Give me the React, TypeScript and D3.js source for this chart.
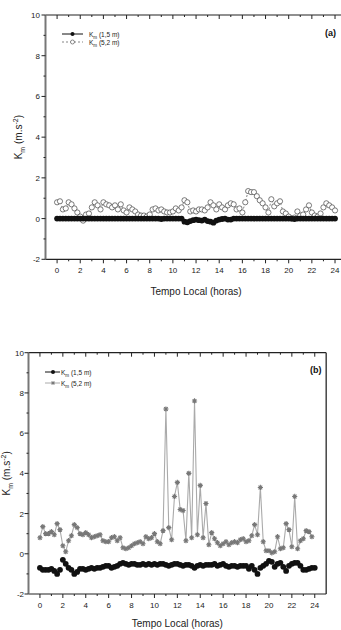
import React, { useEffect, useRef } from 'react';
import * as d3 from 'd3';

// Horas locais, amostragem de 15 min
const STEP_H = 0.25;
const X_TICKS = d3.range(0, 25, 1);
const Y_TICKS = d3.range(-2, 11, 1);

// Painel (a)
const KM_A_15: number[] = [
  0, 0, 0, 0, 0, 0, 0, 0,
  0, 0, 0, 0, 0, 0, 0, 0,
  0, 0, 0, 0, 0, 0, 0, 0,
  0, 0, 0, 0, 0, 0, 0, 0,
  0, 0, 0, 0, -0.02, 0, 0, 0,
  0, 0, 0, 0, -0.15, -0.18, -0.12, -0.08,
  -0.05, -0.08, -0.1, -0.05, -0.12, -0.15, -0.2, -0.1,
  -0.05, -0.02, 0, -0.05, -0.05, 0, 0, 0,
  0, 0, 0, 0, 0, 0, 0, 0,
  0, 0, 0, 0, 0, 0, 0, 0,
  0, 0, -0.02, 0, 0, 0, 0, 0,
  0, 0, 0, 0, 0, 0, 0, 0,
  0,
];
const KM_A_52: number[] = [
  0.8, 0.85, 0.45, 0.5, 0.8, 0.7, 0.5, 0.3,
  0.1, -0.1, 0.2, 0.25, 0.55, 0.8, 0.65, 0.45,
  0.8, 0.7, 0.65, 0.55, 0.65, 0.45, 0.7, 0.4,
  0.3, 0.55, 0.45, 0.35, 0.2, 0.15, 0.15, 0.1,
  0.2, 0.45, 0.5, 0.4, 0.45, 0.35, 0.3, 0.3,
  0.35, 0.5, 0.4, 0.55, 0.9, 0.8, 0.35, 0.4,
  0.35, 0.45, 0.45, 0.4, 0.55, 0.8, 0.65, 0.45,
  0.7, 0.55, 0.45, 0.65, 0.75, 0.7, 0.45, 0.5,
  0.3, 0.8, 1.35, 1.3, 1.3, 1.1, 0.9, 0.75,
  0.55, 0.3, 0.95, 0.6, 0.75, 0.85, 0.35, 0.25,
  0.1, 0.0, 0.05, 0.35, 0.15, 0.2, 0.45, 0.65,
  0.3, 0.15, 0.1, 0.25, 0.55, 0.75, 0.65, 0.55,
  0.4,
];

// Painel (b)
const KM_B_15: number[] = [
  -0.7, -0.8, -0.8, -0.8, -0.75, -0.85, -1.0, -0.8,
  -0.3, -0.5, -0.7, -0.8, -1.0, -0.9, -0.75, -0.75,
  -0.8, -0.75, -0.7, -0.75, -0.7, -0.7, -0.65, -0.6,
  -0.6, -0.7, -0.65, -0.6, -0.5, -0.45, -0.5, -0.55,
  -0.5, -0.5, -0.55, -0.55, -0.5, -0.55, -0.5, -0.55,
  -0.5, -0.55, -0.5, -0.5, -0.55, -0.6, -0.55, -0.5,
  -0.5, -0.55, -0.6, -0.55, -0.55, -0.6, -0.7, -0.6,
  -0.55, -0.6, -0.55, -0.55, -0.55, -0.5, -0.6, -0.55,
  -0.5, -0.6, -0.65, -0.6, -0.6, -0.65, -0.6, -0.6,
  -0.6, -0.75, -0.6, -0.8, -1.0, -0.7, -0.6, -0.5,
  -0.35, -0.4, -0.65, -0.5, -0.45, -0.65, -0.85, -0.6,
  -0.5, -0.45, -0.45, -0.6, -0.8, -0.8, -0.75, -0.7,
  -0.7,
];
const KM_B_52: number[] = [
  0.8, 1.35, 1.0, 1.0, 1.1, 0.95, 1.5, 1.2,
  0.4, 0.1, 0.65, 0.9, 1.45, 1.3, 1.0, 0.95,
  1.05, 0.95, 0.8, 0.85, 0.9, 0.95, 0.65, 0.6,
  0.6, 0.8, 0.85, 0.65, 0.8, 0.3, 0.25, 0.3,
  0.4, 0.5, 0.55, 0.6, 0.5, 0.85, 0.75, 0.8,
  1.0, 0.6, 0.5, 1.15, 7.2, 1.3, 0.7, 2.85,
  3.55, 2.2, 2.15, 0.65, 4.0, 0.8, 7.6, 0.95,
  3.4, 0.8, 2.5, 0.45, 1.05, 0.75, 0.55, 0.4,
  0.5, 0.6, 0.45, 0.55, 0.6, 0.55, 0.7, 0.75,
  0.6, 0.65, 0.9, 1.45, 0.95, 3.3, 0.6, 0.15,
  0.15, 0.05, 0.1, 0.85, 0.25, 0.3, 1.5, 1.2,
  0.35, 2.85, 0.25, 0.65, 0.75, 1.15, 1.1, 0.85,
];

const FONT = 'Liberation Sans, Arial, sans-serif';

interface Pt { h: number; v: number; }
const toPts = (vals: number[]): Pt[] => vals.map((v, i) => ({ h: i * STEP_H, v }));

interface PanelCfg {
  left: number; right: number; top: number; bottom: number;
  tickLabelX: number; yLabelX: number; xLabelY: number;
  tag: string; tagX: number; tagY: number;
  legX: number; legY: number;
  low: number[]; high: number[];
  mode: 'a' | 'b';
}

const PANELS: PanelCfg[] = [
  {
    left: 45.5, right: 346.6, top: 15, bottom: 259.3,
    tickLabelX: 40, yLabelX: 22, xLabelY: 295,
    tag: '(a)', tagX: 325, tagY: 36,
    legX: 62, legY: 34,
    low: KM_A_15, high: KM_A_52, mode: 'a',
  },
  {
    left: 28.5, right: 326.2, top: 352.7, bottom: 594,
    tickLabelX: 24, yLabelX: 10, xLabelY: 627,
    tag: '(b)', tagX: 310, tagY: 373,
    legX: 45, legY: 372,
    low: KM_B_15, high: KM_B_52, mode: 'b',
  },
];

function starPath(r: number) {
  const p: string[] = [];
  for (let k = 0; k < 4; k++) {
    const a = (Math.PI / 4) * k;
    const dx = Math.cos(a) * r, dy = Math.sin(a) * r;
    p.push(`M${-dx},${-dy}L${dx},${dy}`);
  }
  return p.join('');
}

function drawPanel(svg: d3.Selection<SVGSVGElement, unknown, null, undefined>, c: PanelCfg) {
  const x = d3.scaleLinear().domain([-1, 25]).range([c.left, c.right]);
  const y = d3.scaleLinear().domain([-2, 10]).range([c.bottom, c.top]);
  const g = svg.append('g');

  // moldura
  g.append('line').attr('x1', c.left).attr('x2', c.right).attr('y1', c.top).attr('y2', c.top)
    .attr('stroke', '#222').attr('stroke-width', 1.2);
  g.append('line').attr('x1', c.right).attr('x2', c.right).attr('y1', c.top).attr('y2', c.bottom)
    .attr('stroke', '#444').attr('stroke-width', 1.5);
  g.append('line').attr('x1', c.left).attr('x2', c.right).attr('y1', c.bottom).attr('y2', c.bottom)
    .attr('stroke', '#222').attr('stroke-width', 1.2);
  g.append('line').attr('x1', c.left).attr('x2', c.left).attr('y1', c.top).attr('y2', c.bottom)
    .attr('stroke', '#777').attr('stroke-width', 2);

  // ticks x (baixo para fora, topo para dentro)
  X_TICKS.forEach(h => {
    const major = h % 2 === 0;
    const len = major ? 4 : 2;
    g.append('line').attr('x1', x(h)).attr('x2', x(h)).attr('y1', c.bottom).attr('y2', c.bottom + len)
      .attr('stroke', '#222').attr('stroke-width', 1);
    g.append('line').attr('x1', x(h)).attr('x2', x(h)).attr('y1', c.top).attr('y2', c.top + len)
      .attr('stroke', '#222').attr('stroke-width', 1);
    if (major) {
      g.append('text').attr('x', x(h)).attr('y', c.bottom + 14).attr('text-anchor', 'middle')
        .style('font-family', FONT).style('font-size', '8px').attr('fill', '#222').text(String(h));
    }
  });

  // ticks y
  Y_TICKS.forEach(v => {
    const major = v % 2 === 0;
    const len = major ? 4 : 2;
    g.append('line').attr('x1', c.left - len).attr('x2', c.left).attr('y1', y(v)).attr('y2', y(v))
      .attr('stroke', '#222').attr('stroke-width', 1);
    if (major) {
      g.append('text').attr('x', c.tickLabelX).attr('y', y(v) + 3).attr('text-anchor', 'end')
        .style('font-family', FONT).style('font-size', '8px').attr('fill', '#222').text(String(v));
    }
  });

  // rótulos dos eixos
  g.append('text').attr('x', (x(0) + x(24)) / 2).attr('y', c.xLabelY).attr('text-anchor', 'middle')
    .style('font-family', FONT).style('font-size', '10px').attr('fill', '#222').text('Tempo Local (horas)');

  const yl = g.append('text')
    .attr('transform', `translate(${c.yLabelX},${(c.top + c.bottom) / 2}) rotate(-90)`)
    .attr('text-anchor', 'middle')
    .style('font-family', FONT).style('font-size', '10px').attr('fill', '#222');
  yl.append('tspan').text('K');
  yl.append('tspan').attr('dy', 3).style('font-size', '7px').text('m');
  yl.append('tspan').attr('dy', -3).text(' (m.s');
  yl.append('tspan').attr('dy', -4).style('font-size', '7px').text('-2');
  yl.append('tspan').attr('dy', 4).text(')');

  g.append('text').attr('x', c.tagX).attr('y', c.tagY)
    .style('font-family', FONT).style('font-size', '9px').style('font-weight', 'bold').attr('fill', '#111')
    .text(c.tag);

  const low = toPts(c.low);
  const high = toPts(c.high);
  const line = d3.line<Pt>().x(d => x(d.h)).y(d => y(d.v));

  if (c.mode === 'a') {
    g.append('path').datum(high).attr('d', line).attr('fill', 'none')
      .attr('stroke', '#333').attr('stroke-width', 0.6).attr('stroke-dasharray', '2,2');
    g.selectAll('.pa-high').data(high).enter().append('circle').attr('class', 'pa-high')
      .attr('cx', d => x(d.h)).attr('cy', d => y(d.v)).attr('r', 2.6)
      .attr('fill', 'white').attr('stroke', '#444').attr('stroke-width', 0.7);
  } else {
    g.append('path').datum(high).attr('d', line).attr('fill', 'none')
      .attr('stroke', '#aaa').attr('stroke-width', 1.1);
    g.selectAll('.pb-high').data(high).enter().append('path').attr('class', 'pb-high')
      .attr('transform', d => `translate(${x(d.h)},${y(d.v)})`)
      .attr('d', starPath(2.6)).attr('stroke', '#777').attr('stroke-width', 1.1).attr('fill', 'none');
  }

  g.selectAll('.low').data(low).enter().append('circle')
    .attr('cx', d => x(d.h)).attr('cy', d => y(d.v)).attr('r', 2.9).attr('fill', '#111');

  // legenda
  const L = g.append('g').attr('transform', `translate(${c.legX},${c.legY})`);
  const lineW = c.mode === 'a' ? 21 : 15;
  const mx = c.mode === 'a' ? 10.5 : 8;
  const tx = c.mode === 'a' ? 27 : 16;
  L.append('line').attr('x1', 0).attr('x2', lineW).attr('y1', 0).attr('y2', 0).attr('stroke', '#111').attr('stroke-width', 1);
  L.append('circle').attr('cx', mx).attr('cy', 0).attr('r', 2).attr('fill', '#111');
  if (c.mode === 'a') {
    L.append('line').attr('x1', 0).attr('x2', lineW).attr('y1', 8).attr('y2', 8)
      .attr('stroke', '#333').attr('stroke-width', 0.6).attr('stroke-dasharray', '2,2');
    L.append('circle').attr('cx', mx).attr('cy', 8).attr('r', 2).attr('fill', 'white').attr('stroke', '#444').attr('stroke-width', 0.6);
  } else {
    L.append('line').attr('x1', 0).attr('x2', lineW).attr('y1', 11).attr('y2', 11).attr('stroke', '#aaa').attr('stroke-width', 1);
    L.append('path').attr('transform', `translate(${mx},11)`).attr('d', starPath(2)).attr('stroke', '#777').attr('stroke-width', 0.9);
  }
  const labels = ['(1,5 m)', '(5,2 m)'];
  labels.forEach((lb, i) => {
    const t = L.append('text').attr('x', tx).attr('y', (c.mode === 'a' ? 8 : 11) * i + 2.5)
      .style('font-family', FONT).style('font-size', '6.5px').attr('fill', '#222');
    t.append('tspan').text('K');
    t.append('tspan').attr('dy', 2).style('font-size', '4.5px').text('m');
    t.append('tspan').attr('dy', -2).text(' ' + lb);
  });
}

export default function App() {
  const svgRef = useRef<SVGSVGElement>(null);

  useEffect(() => {
    if (!svgRef.current) return;
    const svg = d3.select(svgRef.current);
    svg.selectAll('*').remove();
    PANELS.forEach(p => drawPanel(svg, p));
  }, []);

  return (
    <svg
      ref={svgRef}
      width={341}
      height={630}
      style={{ position: 'absolute', left: 0, top: 0, background: 'white' }}
    />
  );
}
